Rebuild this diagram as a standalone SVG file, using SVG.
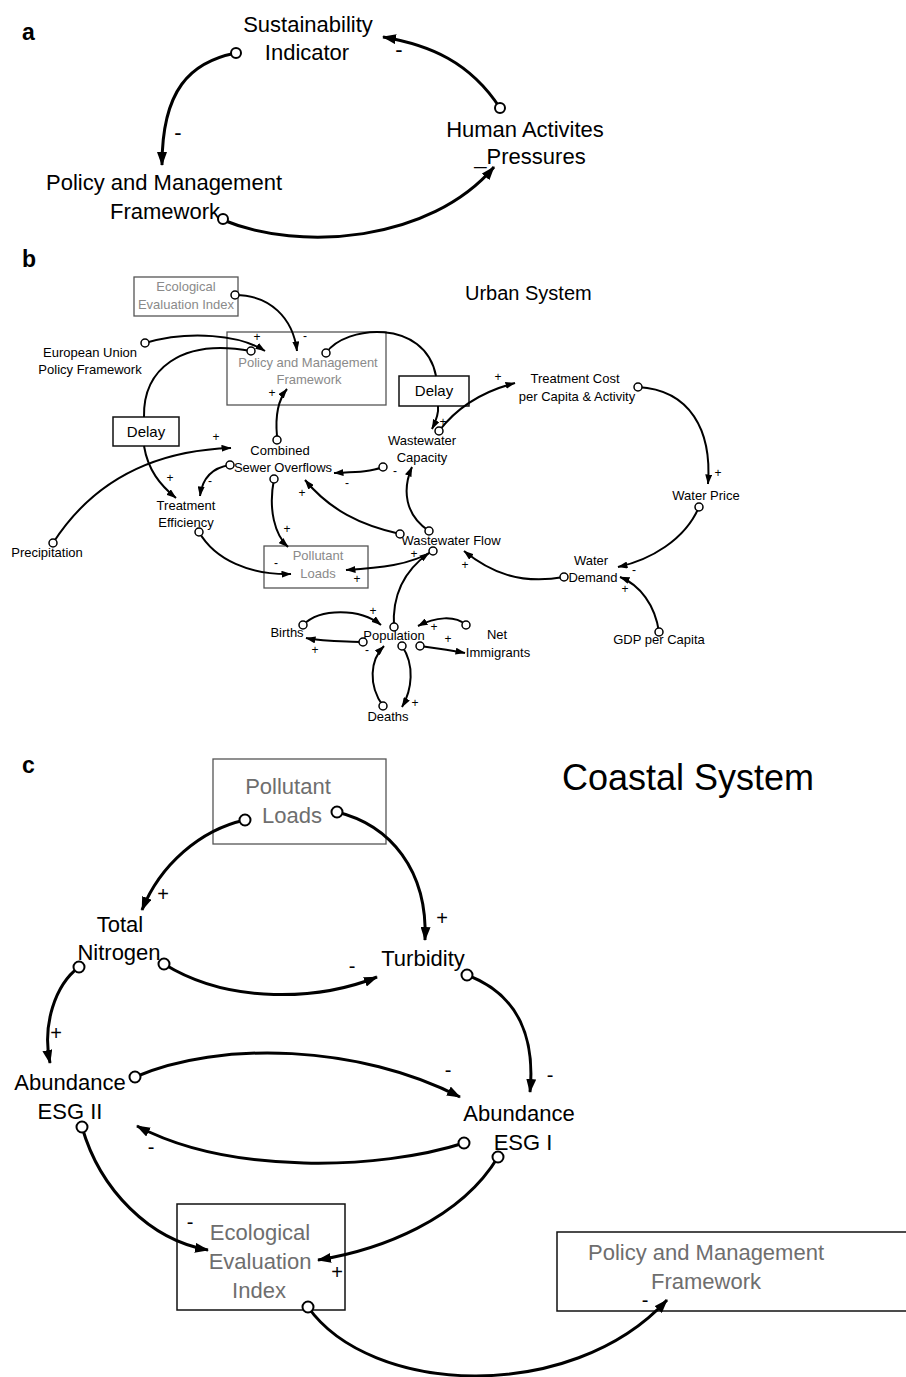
<svg xmlns="http://www.w3.org/2000/svg" width="906" height="1377" viewBox="0 0 906 1377">
<defs>
<style>
text{font-family:"Liberation Sans",Arial,sans-serif;fill:#000}
.pl{font-weight:bold;font-size:23px}
.ta{font-size:22px;text-anchor:middle}
.tb{font-size:13px;text-anchor:middle}
.tbg{font-size:13px;text-anchor:middle;fill:#8a8a8a}
.tc{font-size:22px;text-anchor:middle}
.tcg{font-size:22px;text-anchor:middle;fill:#6e6e6e}
.sb{font-size:12px;text-anchor:middle}
.sa{font-size:22px;text-anchor:middle}
.sc{font-size:20px;text-anchor:middle}
.box{fill:none;stroke:#555;stroke-width:1.3}
.boxk{fill:none;stroke:#111;stroke-width:1.5}
.la{fill:none;stroke:#000;stroke-width:3;marker-end:url(#ab)}
.lb{fill:none;stroke:#000;stroke-width:2;marker-end:url(#as)}
.lbn{fill:none;stroke:#000;stroke-width:2}
.oa{fill:#fff;stroke:#000;stroke-width:2}
.ob{fill:#fff;stroke:#000;stroke-width:1.5}
</style>
<marker id="ab" viewBox="0 0 14 10" refX="13" refY="5" markerWidth="14" markerHeight="10" markerUnits="userSpaceOnUse" orient="auto"><path d="M0,0 L14,5 L0,10 z" fill="#000"/></marker>
<marker id="as" viewBox="0 0 10 7" refX="9.5" refY="3.5" markerWidth="10" markerHeight="7" markerUnits="userSpaceOnUse" orient="auto"><path d="M0,0 L10,3.5 L0,7 z" fill="#000"/></marker>
</defs>
<rect width="906" height="1377" fill="#fff"/>

<!-- panel labels -->
<text class="pl" x="22" y="40">a</text>
<text class="pl" x="22" y="267">b</text>
<text class="pl" x="22" y="773">c</text>

<!-- ===== Panel a nodes ===== -->
<g id="a-sustainability">
<text class="ta" x="308" y="32">Sustainability</text>
<text class="ta" x="307" y="60">Indicator</text>
</g>
<g id="a-human">
<text class="ta" x="525" y="137">Human Activites</text>
<text class="ta" x="530" y="164">_Pressures</text>
</g>
<g id="a-policy">
<text class="ta" x="164" y="190">Policy and Management</text>
<text class="ta" x="165" y="219">Framework</text>
</g>

<!-- ===== Panel b nodes ===== -->
<text x="465" y="300" style="font-size:20px">Urban System</text>
<g id="b-eco">
<rect class="box" x="134" y="277" width="104" height="39"/>
<text class="tbg" x="186" y="291">Ecological</text>
<text class="tbg" x="186" y="309">Evaluation Index</text>
</g>
<g id="b-policy">
<rect class="box" x="227" y="332" width="159" height="73"/>
<text class="tbg" x="308" y="367">Policy and Management</text>
<text class="tbg" x="309" y="384">Framework</text>
</g>
<g id="b-eu">
<text class="tb" x="90" y="357">European Union</text>
<text class="tb" x="90" y="374">Policy Framework</text>
</g>
<g id="b-delay1">
<rect class="boxk" x="113" y="417" width="66" height="29"/>
<text class="tb" x="146" y="437" style="font-size:15px">Delay</text>
</g>
<g id="b-delay2">
<rect class="boxk" x="399" y="376" width="70" height="30"/>
<text class="tb" x="434" y="396" style="font-size:15px">Delay</text>
</g>
<g id="b-cso">
<text class="tb" x="280" y="455">Combined</text>
<text class="tb" x="283" y="472">Sewer Overflows</text>
</g>
<g id="b-wwcap">
<text class="tb" x="422" y="445">Wastewater</text>
<text class="tb" x="422" y="462">Capacity</text>
</g>
<g id="b-tcost">
<text class="tb" x="575" y="383">Treatment Cost</text>
<text class="tb" x="577" y="401">per Capita &amp; Activity</text>
</g>
<g id="b-wprice"><text class="tb" x="706" y="500">Water Price</text></g>
<g id="b-teff">
<text class="tb" x="186" y="510">Treatment</text>
<text class="tb" x="186" y="527">Efficiency</text>
</g>
<g id="b-precip"><text class="tb" x="47" y="557">Precipitation</text></g>
<g id="b-wwflow"><text class="tb" x="451" y="545">Wastewater Flow</text></g>
<g id="b-pollutant">
<rect class="box" x="264" y="546" width="104" height="42"/>
<text class="tbg" x="318" y="560">Pollutant</text>
<text class="tbg" x="318" y="578">Loads</text>
</g>
<g id="b-wdemand">
<text class="tb" x="591" y="565">Water</text>
<text class="tb" x="593" y="582">Demand</text>
</g>
<g id="b-gdp"><text class="tb" x="659" y="644">GDP per Capita</text></g>
<g id="b-births"><text class="tb" x="287" y="637">Births</text></g>
<g id="b-population"><text class="tb" x="394" y="640">Population</text></g>
<g id="b-netimm">
<text class="tb" x="497" y="639">Net</text>
<text class="tb" x="498" y="657">Immigrants</text>
</g>
<g id="b-deaths"><text class="tb" x="388" y="721">Deaths</text></g>

<!-- ===== Panel c nodes ===== -->
<text x="562" y="790" style="font-size:36px">Coastal System</text>
<g id="c-pollutant">
<rect class="box" x="213" y="759" width="173" height="85"/>
<text class="tcg" x="288" y="794">Pollutant</text>
<text class="tcg" x="292" y="823">Loads</text>
</g>
<g id="c-nitrogen">
<text class="tc" x="120" y="932">Total</text>
<text class="tc" x="119" y="960">Nitrogen</text>
</g>
<g id="c-turbidity"><text class="tc" x="423" y="966">Turbidity</text></g>
<g id="c-esg2">
<text class="tc" x="70" y="1090">Abundance</text>
<text class="tc" x="70" y="1119">ESG II</text>
</g>
<g id="c-esg1">
<text class="tc" x="519" y="1121">Abundance</text>
<text class="tc" x="523" y="1150">ESG I</text>
</g>
<g id="c-eco">
<rect class="boxk" x="177" y="1204" width="168" height="106"/>
<text class="tcg" x="260" y="1240">Ecological</text>
<text class="tcg" x="260" y="1269">Evaluation</text>
<text class="tcg" x="259" y="1298">Index</text>
</g>
<g id="c-policy">
<rect class="boxk" x="557" y="1232" width="360" height="79"/>
<text class="tcg" x="706" y="1260">Policy and Management</text>
<text class="tcg" x="706" y="1289">Framework</text>
</g>

<!-- ===== Connectors ===== -->
<g id="connectors">
<!-- panel a -->
<path class="la" d="M236,53 C190,62 162,90 162,165"/>
<path class="la" d="M500,108 C470,62 430,45 383,37"/>
<path class="la" d="M223,220 C300,252 430,242 494,167"/>
<circle class="oa" cx="236" cy="53" r="5"/>
<circle class="oa" cx="500" cy="108" r="5"/>
<circle class="oa" cx="223" cy="219" r="5"/>
<text class="sa" x="178" y="140">-</text>
<text class="sa" x="399" y="57">-</text>

<!-- panel b -->
<path class="lb" d="M235,295 C270,295 293,318 297,351"/>
<path class="lb" d="M145,343 C190,330 240,335 265,351"/>
<path class="lbn" d="M251,351 C180,338 143,370 144,417"/>
<path class="lb" d="M144,446 C148,470 160,485 176,498"/>
<path class="lbn" d="M326,353 C345,325 425,318 436,376"/>
<path class="lb" d="M438,406 C439,414 436,421 432,429"/>
<path class="lb" d="M277,436 C275,415 278,400 287,389"/>
<path class="lb" d="M439,431 C455,410 480,392 515,383"/>
<path class="lb" d="M638,387 C690,390 712,430 708,484"/>
<path class="lb" d="M699,507 C685,540 650,560 618,567"/>
<path class="lb" d="M659,632 C655,605 640,585 620,577"/>
<path class="lb" d="M564,577 C520,585 490,572 464,551"/>
<path class="lb" d="M53,543 C100,470 170,450 231,448"/>
<path class="lb" d="M230,465 C210,468 202,480 200,496"/>
<path class="lb" d="M199,532 C215,560 250,575 291,574"/>
<path class="lb" d="M274,479 C268,510 275,535 288,547"/>
<path class="lb" d="M400,534 C360,525 330,510 305,480"/>
<path class="lb" d="M383,467 C370,472 355,472 334,473"/>
<path class="lb" d="M429,531 C405,515 402,490 412,467"/>
<path class="lb" d="M433,551 C410,565 380,568 346,570"/>
<path class="lb" d="M394,627 C392,595 405,570 429,553"/>
<path class="lb" d="M303,625 C320,608 360,608 381,625"/>
<path class="lb" d="M363,642 C345,641 325,642 306,638"/>
<path class="lb" d="M402,646 C415,665 412,690 402,707"/>
<path class="lb" d="M383,706 C368,685 370,660 384,646"/>
<path class="lb" d="M466,625 C455,615 435,617 418,626"/>
<path class="lb" d="M420,646 C435,648 450,650 465,653"/>
<circle class="ob" cx="235" cy="295" r="4"/>
<circle class="ob" cx="145" cy="343" r="4"/>
<circle class="ob" cx="251" cy="351" r="4"/>
<circle class="ob" cx="326" cy="353" r="4"/>
<circle class="ob" cx="277" cy="440" r="4"/>
<circle class="ob" cx="439" cy="431" r="4"/>
<circle class="ob" cx="638" cy="387" r="4"/>
<circle class="ob" cx="699" cy="507" r="4"/>
<circle class="ob" cx="659" cy="632" r="4"/>
<circle class="ob" cx="564" cy="577" r="4"/>
<circle class="ob" cx="53" cy="543" r="4"/>
<circle class="ob" cx="230" cy="465" r="4"/>
<circle class="ob" cx="199" cy="532" r="4"/>
<circle class="ob" cx="274" cy="479" r="4"/>
<circle class="ob" cx="400" cy="534" r="4"/>
<circle class="ob" cx="383" cy="467" r="4"/>
<circle class="ob" cx="429" cy="531" r="4"/>
<circle class="ob" cx="433" cy="551" r="4"/>
<circle class="ob" cx="394" cy="627" r="4"/>
<circle class="ob" cx="303" cy="625" r="4"/>
<circle class="ob" cx="363" cy="642" r="4"/>
<circle class="ob" cx="402" cy="646" r="4"/>
<circle class="ob" cx="383" cy="706" r="4"/>
<circle class="ob" cx="466" cy="625" r="4"/>
<circle class="ob" cx="420" cy="646" r="4"/>
<text class="sb" x="257" y="341">+</text>
<text class="sb" x="305" y="340">-</text>
<text class="sb" x="272" y="397">+</text>
<text class="sb" x="170" y="482">+</text>
<text class="sb" x="216" y="441">+</text>
<text class="sb" x="443" y="426">+</text>
<text class="sb" x="498" y="381">+</text>
<text class="sb" x="718" y="477">+</text>
<text class="sb" x="634" y="574">-</text>
<text class="sb" x="625" y="593">+</text>
<text class="sb" x="465" y="569">+</text>
<text class="sb" x="210" y="485">-</text>
<text class="sb" x="276" y="567">-</text>
<text class="sb" x="287" y="533">+</text>
<text class="sb" x="302" y="497">+</text>
<text class="sb" x="347" y="487">-</text>
<text class="sb" x="395" y="475">-</text>
<text class="sb" x="414" y="558">+</text>
<text class="sb" x="357" y="583">+</text>
<text class="sb" x="373" y="615">+</text>
<text class="sb" x="315" y="654">+</text>
<text class="sb" x="367" y="654">-</text>
<text class="sb" x="415" y="707">+</text>
<text class="sb" x="434" y="631">+</text>
<text class="sb" x="448" y="643">+</text>

<!-- panel c -->
<path class="la" d="M245,820 C200,830 160,865 142,910"/>
<path class="la" d="M337,812 C390,825 428,870 425,940"/>
<path class="la" d="M164,964 C230,1005 320,1000 377,977"/>
<path class="la" d="M79,967 C55,985 42,1025 50,1063"/>
<path class="la" d="M467,975 C520,995 535,1040 530,1092"/>
<path class="la" d="M135,1077 C220,1040 360,1045 460,1097"/>
<path class="la" d="M464,1143 C380,1170 230,1175 137,1126"/>
<path class="la" d="M82,1127 C100,1190 150,1240 208,1250"/>
<path class="la" d="M498,1157 C460,1220 380,1250 318,1260"/>
<path class="la" d="M308,1307 C370,1395 570,1405 667,1300"/>
<circle class="oa" cx="245" cy="820" r="5.5"/>
<circle class="oa" cx="337" cy="812" r="5.5"/>
<circle class="oa" cx="164" cy="964" r="5.5"/>
<circle class="oa" cx="79" cy="967" r="5.5"/>
<circle class="oa" cx="467" cy="975" r="5.5"/>
<circle class="oa" cx="135" cy="1077" r="5.5"/>
<circle class="oa" cx="464" cy="1143" r="5.5"/>
<circle class="oa" cx="82" cy="1127" r="5.5"/>
<circle class="oa" cx="498" cy="1157" r="5.5"/>
<circle class="oa" cx="308" cy="1307" r="5.5"/>
<text class="sc" x="163" y="901">+</text>
<text class="sc" x="442" y="925">+</text>
<text class="sc" x="352" y="973">-</text>
<text class="sc" x="56" y="1040">+</text>
<text class="sc" x="550" y="1082">-</text>
<text class="sc" x="448" y="1077">-</text>
<text class="sc" x="151" y="1154">-</text>
<text class="sc" x="190" y="1229">-</text>
<text class="sc" x="337" y="1279">+</text>
<text class="sc" x="645" y="1307">-</text>
</g>
</svg>
